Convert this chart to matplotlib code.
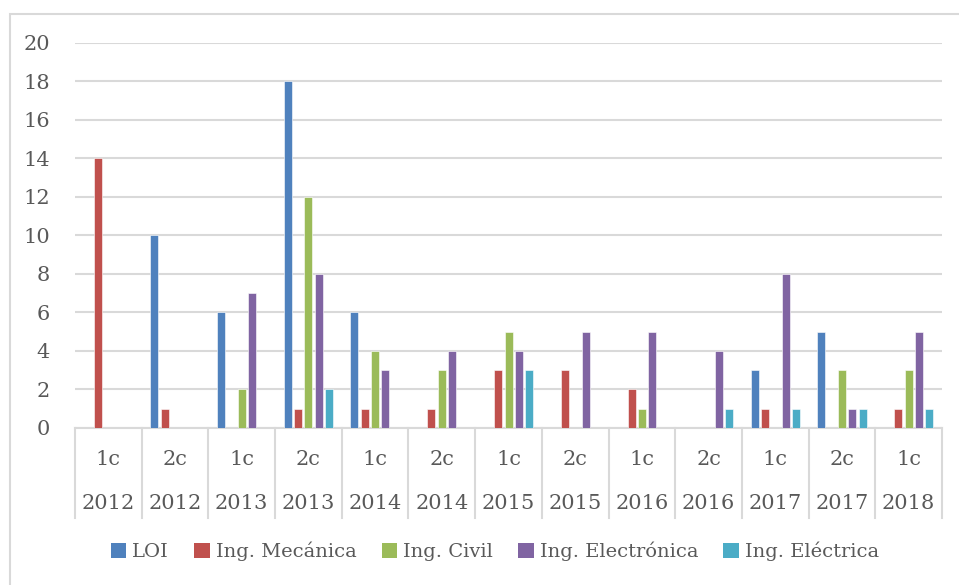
import numpy as np
import matplotlib.pyplot as plt
from matplotlib.patches import Patch, Rectangle

# cuatrimestre / año de cada grupo
cuatrimestres = ['1c', '2c', '1c', '2c', '1c', '2c', '1c', '2c', '1c', '2c', '1c', '2c', '1c']
anios = ['2012', '2012', '2013', '2013', '2014', '2014', '2015', '2015',
         '2016', '2016', '2017', '2017', '2018']

carreras = ['LOI', 'Ing. Mecánica', 'Ing. Civil', 'Ing. Electrónica', 'Ing. Eléctrica']
loi = [0, 10, 6, 18, 6, 0, 0, 0, 0, 0, 3, 5, 0]
mecanica = [14, 1, 0, 1, 1, 1, 3, 3, 2, 0, 1, 0, 1]
civil = [0, 0, 2, 12, 4, 3, 5, 0, 1, 0, 0, 3, 3]
electronica = [0, 0, 7, 8, 3, 4, 4, 5, 5, 4, 8, 1, 5]
electrica = [0, 0, 0, 2, 0, 0, 3, 0, 0, 1, 1, 1, 1]

colores = ['#4F81BD', '#C0504D', '#9BBB59', '#8064A2', '#4BACC6']
gris_texto = '#595959'
gris_linea = '#D9D9D9'
tam = 15

plt.rcParams['font.family'] = ['DejaVu Serif']

fig = plt.figure(figsize=(9.59, 5.85), dpi=100)
ax = fig.add_axes([0.0782, 0.2684, 0.9041, 0.6581])

# marco del gráfico
fig.patches.append(Rectangle((10 / 959, -0.05), 1.2, 1 - 14 / 585 + 0.05,
                             transform=fig.transFigure, fill=False,
                             edgecolor=gris_linea, linewidth=1.5))

x = np.arange(len(cuatrimestres))
paso = 0.155
ancho = 0.12
series = [loi, mecanica, civil, electronica, electrica]
for k, (valores, color) in enumerate(zip(series, colores)):
    ax.bar(x + (k - 2) * paso, valores, width=ancho, color=color,
           edgecolor='white', linewidth=0.4, zorder=3)

ax.set_xlim(-0.5, len(cuatrimestres) - 0.5)
ax.set_ylim(0, 20)
ax.set_yticks(range(0, 21, 2))
ax.yaxis.grid(True, color=gris_linea, linewidth=1.5, zorder=0)
ax.set_axisbelow(True)
ax.tick_params(axis='y', length=0, pad=18, labelsize=tam, labelcolor=gris_texto)
ax.set_xticks([])
for lado in ['left', 'right', 'top']:
    ax.spines[lado].set_visible(False)
ax.spines['bottom'].set_color(gris_linea)
ax.spines['bottom'].set_linewidth(1.5)

# eje de categorías en dos niveles
trans = ax.get_xaxis_transform()
for borde in np.arange(-0.5, len(cuatrimestres), 1.0):
    ax.plot([borde, borde], [0, -0.234], transform=trans, color=gris_linea,
            linewidth=1.5, clip_on=False)
for i in x:
    ax.text(i, -0.083, cuatrimestres[i], transform=trans, ha='center', va='center',
            fontsize=tam, color=gris_texto)
    ax.text(i, -0.195, anios[i], transform=trans, ha='center', va='center',
            fontsize=tam, color=gris_texto)

handles = [Patch(facecolor=c, edgecolor='none') for c in colores]
fig.legend(handles, carreras, loc='center', bbox_to_anchor=(0.516, 0.058), ncol=5,
           frameon=False, fontsize=14, labelcolor=gris_texto, handlelength=0.8,
           handleheight=0.8, handletextpad=0.3, columnspacing=1.3)

fig.savefig('out.png', dpi=100)
